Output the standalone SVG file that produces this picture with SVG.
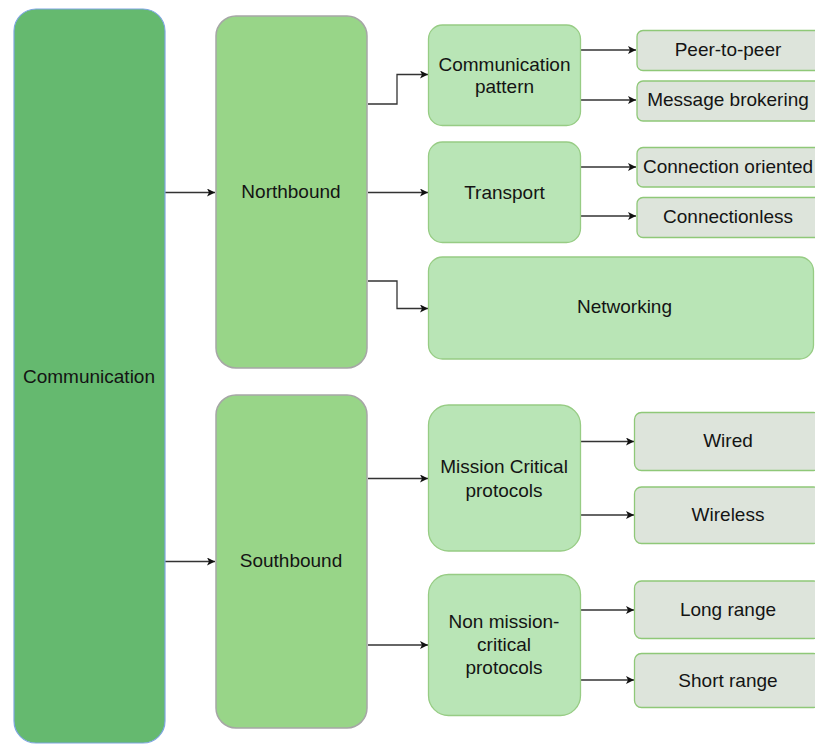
<svg xmlns="http://www.w3.org/2000/svg" width="815" height="744" viewBox="0 0 815 744">
  <defs>
    <marker id="arrow" viewBox="0 0 10 10" refX="10" refY="5" markerWidth="8" markerHeight="8" markerUnits="userSpaceOnUse" orient="auto">
      <path d="M0,0 L10,5 L0,10 L2.5,5 Z" fill="#111"/>
    </marker>
    <style>
      .root { fill: #65b96f; stroke: #7ea6e0; stroke-width: 1.2; }
      .mid { fill: #98d588; stroke: #a6a6a6; stroke-width: 1.5; }
      .sub { fill: #b9e5b6; stroke: #97cc84; stroke-width: 1.3; }
      .leaf { fill: #dde4db; stroke: #8fc878; stroke-width: 1.3; }
      text { font-family: "Liberation Sans", Arial, sans-serif; font-size: 19px; fill: #141414; text-anchor: middle; }
      .conn path { fill: none; stroke: #333; stroke-width: 1.3; marker-end: url(#arrow); }
    </style>
  </defs>
  <rect width="815" height="744" fill="#ffffff"/>

  <g class="conn" id="connectors">
    <path d="M165,192.5 H215"/>
    <path d="M165,561.5 H215"/>
    <path d="M368,104 H397 V74.5 H428"/>
    <path d="M368,192.5 H428"/>
    <path d="M368,281 H397 V308.5 H428"/>
    <path d="M368,478.5 H428"/>
    <path d="M368,645 H428"/>
    <path d="M581,50 H636"/>
    <path d="M581,100 H636"/>
    <path d="M581,167 H636"/>
    <path d="M581,216 H636"/>
    <path d="M581,441.5 H634"/>
    <path d="M581,515 H634"/>
    <path d="M581,610 H634"/>
    <path d="M581,680 H634"/>
  </g>

  <g id="communication">
    <rect class="root" x="14" y="9" width="151" height="734" rx="22"/>
    <text x="89" y="383">Communication</text>
  </g>

  <g id="northbound">
    <rect class="mid" x="216" y="16" width="151" height="352" rx="20"/>
    <text x="291" y="198">Northbound</text>
  </g>
  <g id="southbound">
    <rect class="mid" x="216" y="395" width="151" height="333" rx="20"/>
    <text x="291" y="567">Southbound</text>
  </g>

  <g id="communication-pattern">
    <rect class="sub" x="428.5" y="25" width="152" height="100.5" rx="14"/>
    <text x="504.5" y="70.5">Communication</text>
    <text x="504.5" y="92.5">pattern</text>
  </g>
  <g id="transport">
    <rect class="sub" x="428.5" y="142" width="152" height="100.5" rx="14"/>
    <text x="504.5" y="199">Transport</text>
  </g>
  <g id="networking">
    <rect class="sub" x="428.5" y="257" width="385" height="102" rx="14"/>
    <text x="624.5" y="313">Networking</text>
  </g>
  <g id="mission-critical">
    <rect class="sub" x="428.5" y="405" width="152" height="146" rx="20"/>
    <text x="504" y="473">Mission Critical</text>
    <text x="504" y="496.5">protocols</text>
  </g>
  <g id="non-mission-critical">
    <rect class="sub" x="428.5" y="574.5" width="152" height="141" rx="20"/>
    <text x="504" y="627.5">Non mission-</text>
    <text x="504" y="650.5">critical</text>
    <text x="504" y="674">protocols</text>
  </g>

  <g id="peer-to-peer">
    <rect class="leaf" x="637" y="30.5" width="184" height="40" rx="6"/>
    <text x="728" y="55.5">Peer-to-peer</text>
  </g>
  <g id="message-brokering">
    <rect class="leaf" x="637" y="81" width="184" height="40" rx="6"/>
    <text x="728" y="105.5">Message brokering</text>
  </g>
  <g id="connection-oriented">
    <rect class="leaf" x="637" y="147.5" width="184" height="39.5" rx="6"/>
    <text x="728" y="172.5">Connection oriented</text>
  </g>
  <g id="connectionless">
    <rect class="leaf" x="637" y="197.5" width="184" height="40" rx="6"/>
    <text x="728" y="222.5">Connectionless</text>
  </g>
  <g id="wired">
    <rect class="leaf" x="634.5" y="412.5" width="186" height="58" rx="7"/>
    <text x="728" y="447">Wired</text>
  </g>
  <g id="wireless">
    <rect class="leaf" x="634.5" y="487" width="186" height="56.5" rx="7"/>
    <text x="728" y="521">Wireless</text>
  </g>
  <g id="long-range">
    <rect class="leaf" x="634.5" y="581" width="186" height="57.5" rx="7"/>
    <text x="728" y="616">Long range</text>
  </g>
  <g id="short-range">
    <rect class="leaf" x="634.5" y="653.5" width="186" height="54" rx="7"/>
    <text x="728" y="686.5">Short range</text>
  </g>
</svg>
